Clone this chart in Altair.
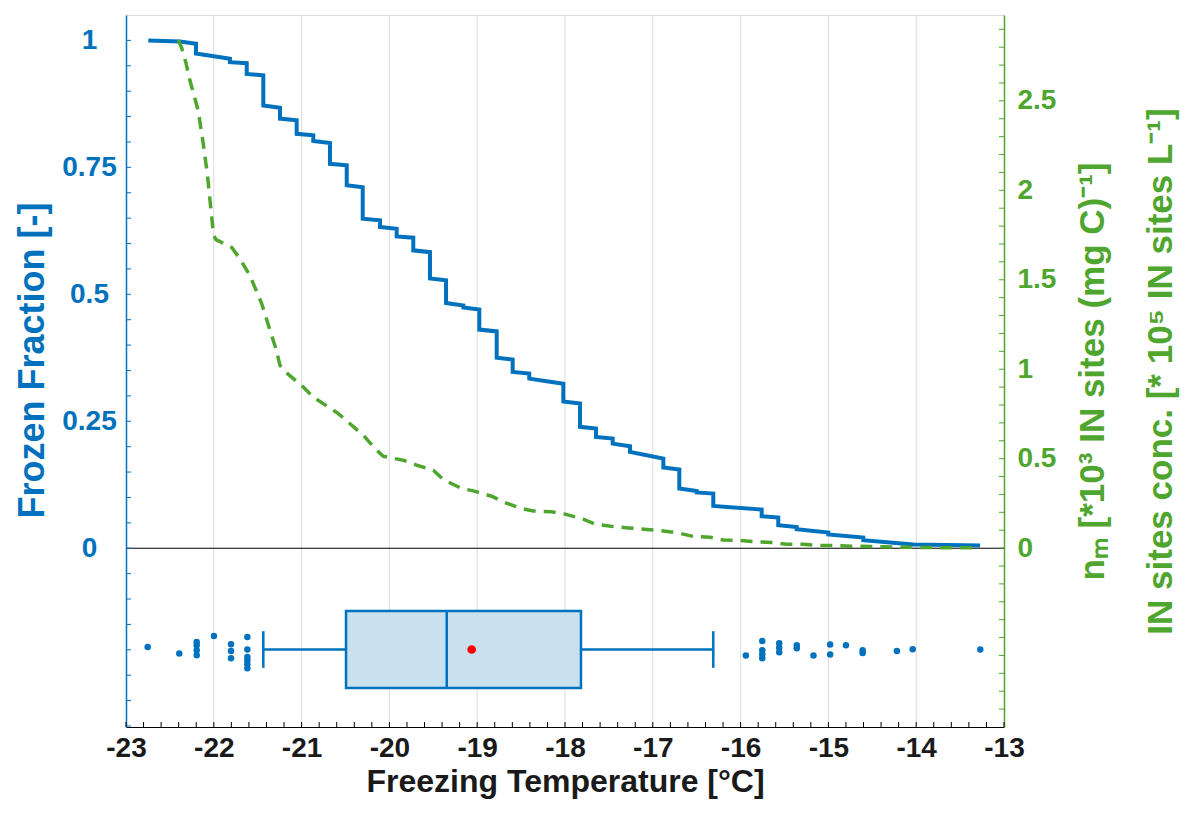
import altair as alt
import pandas as pd

BLUE = "#0072BD"
GREEN = "#4FA62E"
DARK = "#1a1a1a"
FONT = "Liberation Sans"

# ---- data ----
# frozen fraction (step curve): temperature [°C], fraction [-]
ff_temp = [-22.746, -22.385, -22.203, -22.203, -21.816, -21.816, -21.625, -21.625,
           -21.436, -21.436, -21.246, -21.246, -21.056, -21.056, -20.867, -20.867,
           -20.677, -20.677, -20.486, -20.486, -20.304, -20.304, -20.107, -20.107,
           -19.917, -19.917, -19.728, -19.728, -19.538, -19.538, -19.355, -19.355,
           -19.158, -19.158, -18.976, -18.976, -18.778, -18.778, -18.596, -18.596,
           -18.407, -18.407, -18.208, -18.019, -18.019, -17.829, -17.829, -17.647,
           -17.647, -17.457, -17.457, -17.260, -17.260, -17.070, -16.880, -16.880,
           -16.698, -16.698, -16.500, -16.500, -16.311, -16.311, -15.760, -15.760,
           -15.571, -15.571, -15.361, -15.361, -15.001, -15.001, -14.603, -14.603,
           -14.033, -13.273]
ff_frac = [1.000, 0.998, 0.9935, 0.974, 0.964, 0.957, 0.955, 0.934,
           0.931, 0.872, 0.8675, 0.846, 0.8425, 0.816, 0.813, 0.802,
           0.798, 0.757, 0.754, 0.7146, 0.711, 0.649, 0.6457, 0.6325,
           0.629, 0.614, 0.6116, 0.5866, 0.583, 0.531, 0.5276, 0.483,
           0.478, 0.474, 0.470, 0.4305, 0.427, 0.375, 0.3715, 0.347,
           0.344, 0.334, 0.329, 0.324, 0.289, 0.285, 0.239, 0.2356,
           0.219, 0.216, 0.206, 0.2008, 0.1896, 0.183, 0.1766, 0.159,
           0.155, 0.1175, 0.1128, 0.110, 0.1077, 0.0833, 0.0762, 0.063,
           0.0604, 0.0453, 0.0419, 0.0374, 0.0309, 0.027, 0.021, 0.0157,
           0.0073, 0.0053]

# n_m / IN sites concentration (dashed curve)
nm_temp = [-22.404, -22.366, -22.317, -22.271, -22.177, -22.120, -22.074, -22.035,
           -22.003, -21.975, -21.796, -21.702, -21.588, -21.454, -21.341, -21.292,
           -21.246, -21.151, -20.981, -20.867, -20.582, -20.297, -20.164, -20.069,
           -19.842, -19.686, -19.500, -19.386, -19.177, -19.044, -18.835, -18.703,
           -18.493, -18.361, -18.152, -18.000, -17.792, -17.658, -17.431, -17.279,
           -17.070, -16.918, -16.710, -16.557, -16.349, -16.197, -16.007, -15.817,
           -15.646, -15.475, -15.286, -15.115, -14.906, -14.735, -14.375, -13.994,
           -13.653, -13.273]
nm_val = [2.840, 2.796, 2.712, 2.612, 2.444, 2.260, 2.093, 1.903,
          1.752, 1.724, 1.681, 1.617, 1.523, 1.366, 1.189, 1.114,
          1.021, 0.971, 0.900, 0.844, 0.752, 0.631, 0.556, 0.513,
          0.491, 0.463, 0.435, 0.383, 0.333, 0.320, 0.290, 0.258,
          0.2215, 0.208, 0.2026, 0.190, 0.162, 0.134, 0.119, 0.113,
          0.104, 0.098, 0.085, 0.067, 0.061, 0.045, 0.043, 0.035,
          0.032, 0.022, 0.021, 0.014, 0.014, 0.011, 0.007, 0.004,
          0.002, 0.002]

# box plot statistics of freezing temperatures
box_q1 = -20.494
box_median = -19.347
box_q3 = -17.818
box_low = -21.436
box_high = -16.311
box_mean = -19.063

outlier_temp = [-22.753, -22.393, -22.195, -22.195, -22.195, -22.195, -21.998, -21.804,
                -21.804, -21.804, -21.618, -21.618, -21.618, -21.618, -21.618, -21.618,
                -15.94, -15.753, -15.753, -15.753, -15.753, -15.56, -15.56, -15.56,
                -15.36, -15.36, -15.17, -14.98, -14.98, -14.80, -14.61, -14.61,
                -14.22, -14.04, -13.27]
outlier_jitter = [0.0051, -0.0079, 0.0150, 0.0085, -0.0014, -0.0112, 0.0268, 0.0104,
                  -0.0028, -0.0171, 0.0248, 0.0000, -0.0146, -0.0211, -0.0289, -0.0368,
                  -0.0118, 0.0169, -0.0014, -0.0093, -0.0171, 0.0124, 0.0035, -0.0053,
                  0.0085, 0.0025, -0.0118, 0.0098, -0.0099, 0.0085, -0.0014, -0.0067,
                  -0.0028, 0.0006, 0.0000]

x_tick_labels = [-23, -22, -21, -20, -19, -18, -17, -16, -15, -14, -13]
left_tick_labels = [0, 0.25, 0.5, 0.75, 1]
right_tick_labels = [0, 0.5, 1, 1.5, 2, 2.5]
grid_temps = [-22, -21, -20, -19, -18, -17, -16, -15, -14]

# ---- layout constants (left-axis units for the box plot strip) ----
BOX_CENTER = -0.1994
BOX_HALF = 0.0758
CAP_HALF = 0.0361
W, H = 878, 712

minor_x = [round(-23 + 0.2 * i, 2) for i in range(51)]
minor_left = [round(-0.35 + 0.05 * i, 2) for i in range(28)]
minor_right = [round(-0.9 + 0.1 * i, 1) for i in range(39)]

ff_df = pd.DataFrame({"T": ff_temp, "F": ff_frac, "i": range(len(ff_temp))})
nm_df = pd.DataFrame({"T": nm_temp, "N": nm_val, "i": range(len(nm_temp))})
box_df = pd.DataFrame([{
    "q1": box_q1, "q3": box_q3, "med": box_median, "lo": box_low, "hi": box_high,
    "mean": box_mean, "yc": BOX_CENTER, "yt": BOX_CENTER + BOX_HALF,
    "yb": BOX_CENTER - BOX_HALF, "ct": BOX_CENTER + CAP_HALF, "cb": BOX_CENTER - CAP_HALF,
}])
out_df = pd.DataFrame({"T": outlier_temp, "y": [BOX_CENTER + j for j in outlier_jitter]})
grid_df = pd.DataFrame({"T": grid_temps})
zero_df = pd.DataFrame({"v": [0]})
xt_df = pd.DataFrame({"T": minor_x})
lt_df = pd.DataFrame({"v": minor_left})
rt_df = pd.DataFrame({"v": minor_right})

x_scale = alt.Scale(domain=[-23, -13], nice=False, zero=False)
left_scale = alt.Scale(domain=[-0.352, 1.05], nice=False, zero=False)
right_scale = alt.Scale(domain=[-1.0, 2.98], nice=False, zero=False)

x_axis = alt.Axis(values=x_tick_labels, labelExpr="'' + datum.value", ticks=False, grid=False,
                  domainColor="black", domainWidth=1, labelColor=DARK, labelFont=FONT,
                  labelFontSize=28, labelFontWeight="bold", labelPadding=7,
                  labelFlush=False, labelOverlap=False,
                  title="Freezing Temperature [°C]", titleFont=FONT, titleFontSize=32,
                  titleFontWeight="bold", titleColor=DARK, titleY=54, titleBaseline="middle")
left_axis = alt.Axis(values=left_tick_labels, labelExpr="'' + datum.value", ticks=False,
                     grid=False, domainColor=BLUE, domainWidth=1.5, labelColor=BLUE,
                     labelFont=FONT, labelFontSize=28, labelFontWeight="bold",
                     labelAlign="center", labelBaseline="middle", labelPadding=37,
                     title="Frozen Fraction [-]", titleColor=BLUE, titleFont=FONT,
                     titleFontSize=36, titleFontWeight="bold", titleAngle=270,
                     titleX=-94, titleY=H / 2 - 11, titleAlign="center",
                     titleBaseline="middle")
right_axis = alt.Axis(orient="right", values=right_tick_labels, labelExpr="'' + datum.value",
                      ticks=False, grid=False, domainColor=GREEN, domainWidth=1.5,
                      labelColor=GREEN, labelFont=FONT, labelFontSize=28,
                      labelFontWeight="bold", labelAlign="left", labelBaseline="middle",
                      labelPadding=13,
                      title=["nₘ [*10³ IN sites (mg C)⁻¹]",
                             "IN sites conc. [* 10⁵ IN sites L⁻¹]"],
                      titleColor=GREEN, titleFont=FONT, titleFontSize=35,
                      titleFontWeight="bold", titleAngle=270, titleX=88, titleY=H / 2,
                      titleAlign="center", titleBaseline="middle", titleLineHeight=68)


def X(field):
    return alt.X(field, type="quantitative", scale=x_scale, axis=x_axis)


def X2(field):
    return alt.X2(field)


def YL(field):
    return alt.Y(field, type="quantitative", scale=left_scale, axis=left_axis)


def YR(field):
    return alt.Y(field, type="quantitative", scale=right_scale, axis=right_axis)


grid = alt.Chart(grid_df).mark_rule(color="#dcdcdc", strokeWidth=1).encode(x=X("T"))
zero = alt.Chart(zero_df).mark_rule(color="black", strokeWidth=1).encode(y=YL("v"))
box = alt.Chart(box_df).mark_rect(fill="#C9E1EE", stroke=BLUE, strokeWidth=2.5).encode(
    x=X("q1"), x2=X2("q3"), y=YL("yt"), y2=alt.Y2("yb"))
wl = alt.Chart(box_df).mark_rule(color=BLUE, strokeWidth=2.5).encode(
    x=X("lo"), x2=X2("q1"), y=YL("yc"))
wh = alt.Chart(box_df).mark_rule(color=BLUE, strokeWidth=2.5).encode(
    x=X("q3"), x2=X2("hi"), y=YL("yc"))
cap_l = alt.Chart(box_df).mark_rule(color=BLUE, strokeWidth=2.5).encode(
    x=X("lo"), y=YL("ct"), y2=alt.Y2("cb"))
cap_h = alt.Chart(box_df).mark_rule(color=BLUE, strokeWidth=2.5).encode(
    x=X("hi"), y=YL("ct"), y2=alt.Y2("cb"))
med = alt.Chart(box_df).mark_rule(color=BLUE, strokeWidth=2.5).encode(
    x=X("med"), y=YL("yt"), y2=alt.Y2("yb"))
mean = alt.Chart(box_df).mark_point(filled=True, color="#FF0000", size=75, opacity=1).encode(
    x=X("mean"), y=YL("yc"))
outl = alt.Chart(out_df).mark_point(filled=True, color=BLUE, size=42, opacity=1).encode(
    x=X("T"), y=YL("y"))
ff_line = alt.Chart(ff_df).mark_line(color=BLUE, strokeWidth=4, strokeJoin="miter").encode(
    x=X("T"), y=YL("F"), order=alt.Order("i:Q"))
lticks = alt.Chart(lt_df).mark_rule(color=BLUE, strokeWidth=1).encode(
    y=YL("v"), x=alt.value(0), x2=alt.value(5))
xticks = alt.Chart(xt_df).mark_rule(color="black", strokeWidth=1).encode(
    x=X("T"), y=alt.value(H), y2=alt.value(H - 5))

left_group = alt.layer(grid, zero, box, wl, wh, cap_l, cap_h, med, mean, outl, ff_line,
                       lticks, xticks)

nm_line = alt.Chart(nm_df).mark_line(color=GREEN, strokeWidth=3.5, strokeDash=[12, 8],
                                     strokeCap="butt").encode(
    x=X("T"), y=YR("N"), order=alt.Order("i:Q"))
rticks = alt.Chart(rt_df).mark_rule(color=GREEN, strokeWidth=1).encode(
    y=YR("v"), x=alt.value(W), x2=alt.value(W - 5))
right_group = alt.layer(nm_line, rticks)

chart = alt.layer(left_group, right_group).resolve_scale(y="independent").properties(
    width=W, height=H,
    autosize=alt.AutoSizeParams(type="none"),
    padding={"left": 118, "top": 7, "right": 176, "bottom": 93},
).configure_view(stroke="black", strokeWidth=1).configure(background="white")

chart.save("out.html", embed_options={"renderer": "svg", "actions": False})
